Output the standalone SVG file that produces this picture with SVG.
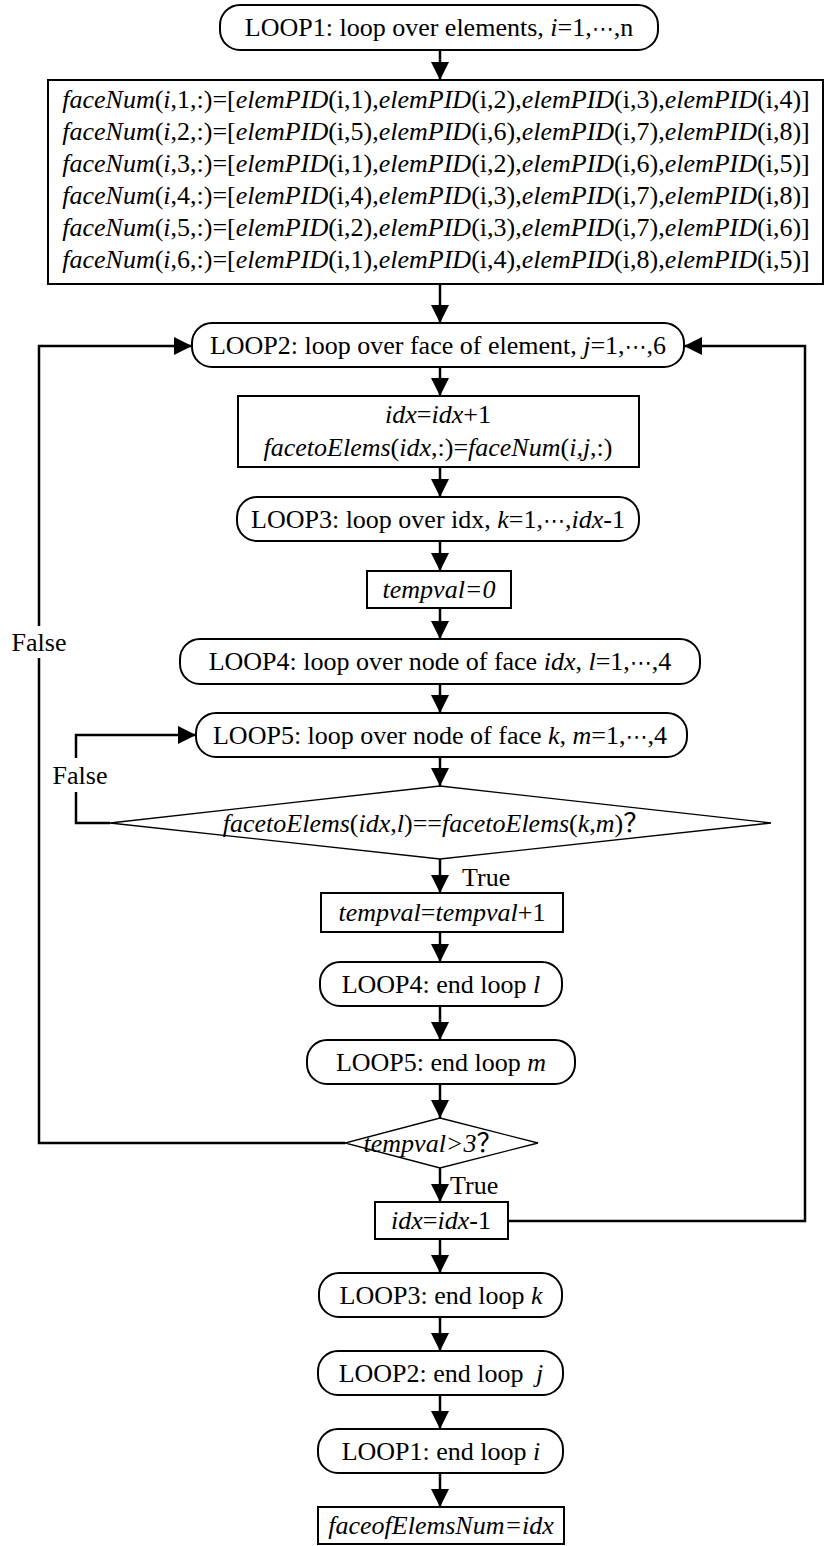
<svg xmlns="http://www.w3.org/2000/svg" width="825" height="1546" viewBox="0 0 825 1546">
<style>
.n rect{fill:#fff;stroke:#000;stroke-width:2}
.n polygon{fill:#fff;stroke:#000;stroke-width:1.3}
.c path{fill:none;stroke:#000;stroke-width:2.5}
.c path.a{marker-end:url(#ah)}
text{font-family:"Liberation Serif","DejaVu Serif",serif;font-size:26px;text-anchor:middle;fill:#000}
.i{font-style:italic}
.q{font-family:"Noto Sans CJK SC","Liberation Serif",serif;font-style:normal}
.e{font-family:"DejaVu Sans","Liberation Serif",serif;font-size:22px}
</style>
<defs>
<marker id="ah" markerUnits="userSpaceOnUse" markerWidth="19" markerHeight="18" refX="18" refY="9" orient="auto">
<path d="M0,0 L18,9 L0,18 z" fill="#000"/>
</marker>
</defs>
<g id="loop1" class="n"><rect x="220" y="5" width="438" height="45" rx="20"/>
<text x="439" y="36">LOOP1: loop over elements, <tspan class="i">i</tspan>=1,<tspan class="e">⋯</tspan>,n</text></g>
<g id="facenum" class="n"><rect x="48" y="80" width="775" height="204"/>
<text x="436" y="108"><tspan class="i">faceNum</tspan>(<tspan class="i">i</tspan>,1,:)=[<tspan class="i">elemPID</tspan>(i,1),<tspan class="i">elemPID</tspan>(i,2),<tspan class="i">elemPID</tspan>(i,3),<tspan class="i">elemPID</tspan>(i,4)]</text>
<text x="436" y="140"><tspan class="i">faceNum</tspan>(<tspan class="i">i</tspan>,2,:)=[<tspan class="i">elemPID</tspan>(i,5),<tspan class="i">elemPID</tspan>(i,6),<tspan class="i">elemPID</tspan>(i,7),<tspan class="i">elemPID</tspan>(i,8)]</text>
<text x="436" y="172"><tspan class="i">faceNum</tspan>(<tspan class="i">i</tspan>,3,:)=[<tspan class="i">elemPID</tspan>(i,1),<tspan class="i">elemPID</tspan>(i,2),<tspan class="i">elemPID</tspan>(i,6),<tspan class="i">elemPID</tspan>(i,5)]</text>
<text x="436" y="204"><tspan class="i">faceNum</tspan>(<tspan class="i">i</tspan>,4,:)=[<tspan class="i">elemPID</tspan>(i,4),<tspan class="i">elemPID</tspan>(i,3),<tspan class="i">elemPID</tspan>(i,7),<tspan class="i">elemPID</tspan>(i,8)]</text>
<text x="436" y="236"><tspan class="i">faceNum</tspan>(<tspan class="i">i</tspan>,5,:)=[<tspan class="i">elemPID</tspan>(i,2),<tspan class="i">elemPID</tspan>(i,3),<tspan class="i">elemPID</tspan>(i,7),<tspan class="i">elemPID</tspan>(i,6)]</text>
<text x="436" y="268"><tspan class="i">faceNum</tspan>(<tspan class="i">i</tspan>,6,:)=[<tspan class="i">elemPID</tspan>(i,1),<tspan class="i">elemPID</tspan>(i,4),<tspan class="i">elemPID</tspan>(i,8),<tspan class="i">elemPID</tspan>(i,5)]</text></g>
<g id="loop2" class="n"><rect x="192" y="323" width="492" height="44" rx="20"/>
<text x="438" y="354">LOOP2: loop over face of element, <tspan class="i">j</tspan>=1,<tspan class="e">⋯</tspan>,6</text></g>
<g id="idxinc" class="n"><rect x="238" y="396" width="401" height="71"/>
<text x="438" y="423"><tspan class="i">idx</tspan>=<tspan class="i">idx</tspan>+1</text>
<text x="438" y="456"><tspan class="i">facetoElems</tspan>(<tspan class="i">idx</tspan>,:)=<tspan class="i">faceNum</tspan>(<tspan class="i">i,j</tspan>,:)</text></g>
<g id="loop3" class="n"><rect x="237" y="497" width="402" height="44" rx="20"/>
<text x="438" y="528">LOOP3: loop over idx, <tspan class="i">k</tspan>=1,<tspan class="e">⋯</tspan>,<tspan class="i">idx</tspan>-1</text></g>
<g id="temp0" class="n"><rect x="367" y="571" width="144" height="37"/>
<text x="439" y="598" class="i">tempval=0</text></g>
<g id="loop4" class="n"><rect x="180" y="639" width="520" height="45" rx="20"/>
<text x="440" y="670">LOOP4: loop over node of face <tspan class="i">idx</tspan>, <tspan class="i">l</tspan>=1,<tspan class="e">⋯</tspan>,4</text></g>
<g id="loop5" class="n"><rect x="196" y="713" width="491" height="44" rx="20"/>
<text x="440" y="744">LOOP5: loop over node of face <tspan class="i">k</tspan>, <tspan class="i">m</tspan>=1,<tspan class="e">⋯</tspan>,4</text></g>
<g id="cond1" class="n"><polygon points="440,786 771,823 440,859 110,823"/>
<text x="436" y="832"><tspan class="i">facetoElems</tspan>(<tspan class="i">idx</tspan>,<tspan class="i">l</tspan>)==<tspan class="i">facetoElems</tspan>(<tspan class="i">k</tspan>,<tspan class="i">m</tspan>)<tspan class="q">？</tspan></text></g>
<g id="tempinc" class="n"><rect x="321" y="893" width="242" height="39"/>
<text x="442" y="921"><tspan class="i">tempval</tspan>=<tspan class="i">tempval</tspan>+1</text></g>
<g id="end4" class="n"><rect x="320" y="962" width="242" height="44" rx="20"/>
<text x="441" y="993">LOOP4: end loop <tspan class="i">l</tspan></text></g>
<g id="end5" class="n"><rect x="307" y="1040" width="268" height="44" rx="20"/>
<text x="441" y="1071">LOOP5: end loop <tspan class="i">m</tspan></text></g>
<g id="cond2" class="n"><polygon points="440,1118 538,1143 440,1168 345,1143"/>
<text x="433" y="1152"><tspan class="i">tempval&gt;3</tspan><tspan class="q">？</tspan></text></g>
<g id="idxdec" class="n"><rect x="375" y="1202" width="133" height="37"/>
<text x="441" y="1229"><tspan class="i">idx</tspan>=<tspan class="i">idx</tspan>-1</text></g>
<g id="end3" class="n"><rect x="319" y="1273" width="243" height="44" rx="20"/>
<text x="441" y="1304">LOOP3: end loop <tspan class="i">k</tspan></text></g>
<g id="end2" class="n"><rect x="318" y="1351" width="245" height="44" rx="20"/>
<text x="441" y="1382">LOOP2: end loop <tspan class="i" dx="6">j</tspan></text></g>
<g id="end1" class="n"><rect x="318" y="1429" width="245" height="44" rx="20"/>
<text x="441" y="1460">LOOP1: end loop <tspan class="i">i</tspan></text></g>
<g id="result" class="n"><rect x="318" y="1507" width="246" height="37"/>
<text x="441" y="1534" class="i">faceofElemsNum=idx</text></g>
<g id="connectors" class="c">
<path class="a" d="M440,50 V80"/>
<path class="a" d="M440,284 V323"/>
<path class="a" d="M440,367 V396"/>
<path class="a" d="M440,467 V497"/>
<path class="a" d="M440,541 V571"/>
<path class="a" d="M440,608 V639"/>
<path class="a" d="M440,684 V713"/>
<path class="a" d="M440,757 V786"/>
<path class="a" d="M440,859 V893"/>
<path class="a" d="M440,932 V962"/>
<path class="a" d="M440,1006 V1040"/>
<path class="a" d="M440,1084 V1118"/>
<path class="a" d="M440,1168 V1202"/>
<path class="a" d="M440,1239 V1273"/>
<path class="a" d="M440,1317 V1351"/>
<path class="a" d="M440,1395 V1429"/>
<path class="a" d="M440,1473 V1507"/>
<path d="M110,823 H76 V792"/>
<path class="a" d="M76,758 V735 H196"/>
<path d="M345,1143 H39 V658"/>
<path class="a" d="M39,626 V346 H192"/>
<path class="a" d="M508,1221 H805 V346 H684"/>
<text x="80" y="784">False</text>
<text x="39" y="651">False</text>
<text x="462" y="886" style="text-anchor:start">True</text>
<text x="450" y="1194" style="text-anchor:start">True</text>
</g>
</svg>
